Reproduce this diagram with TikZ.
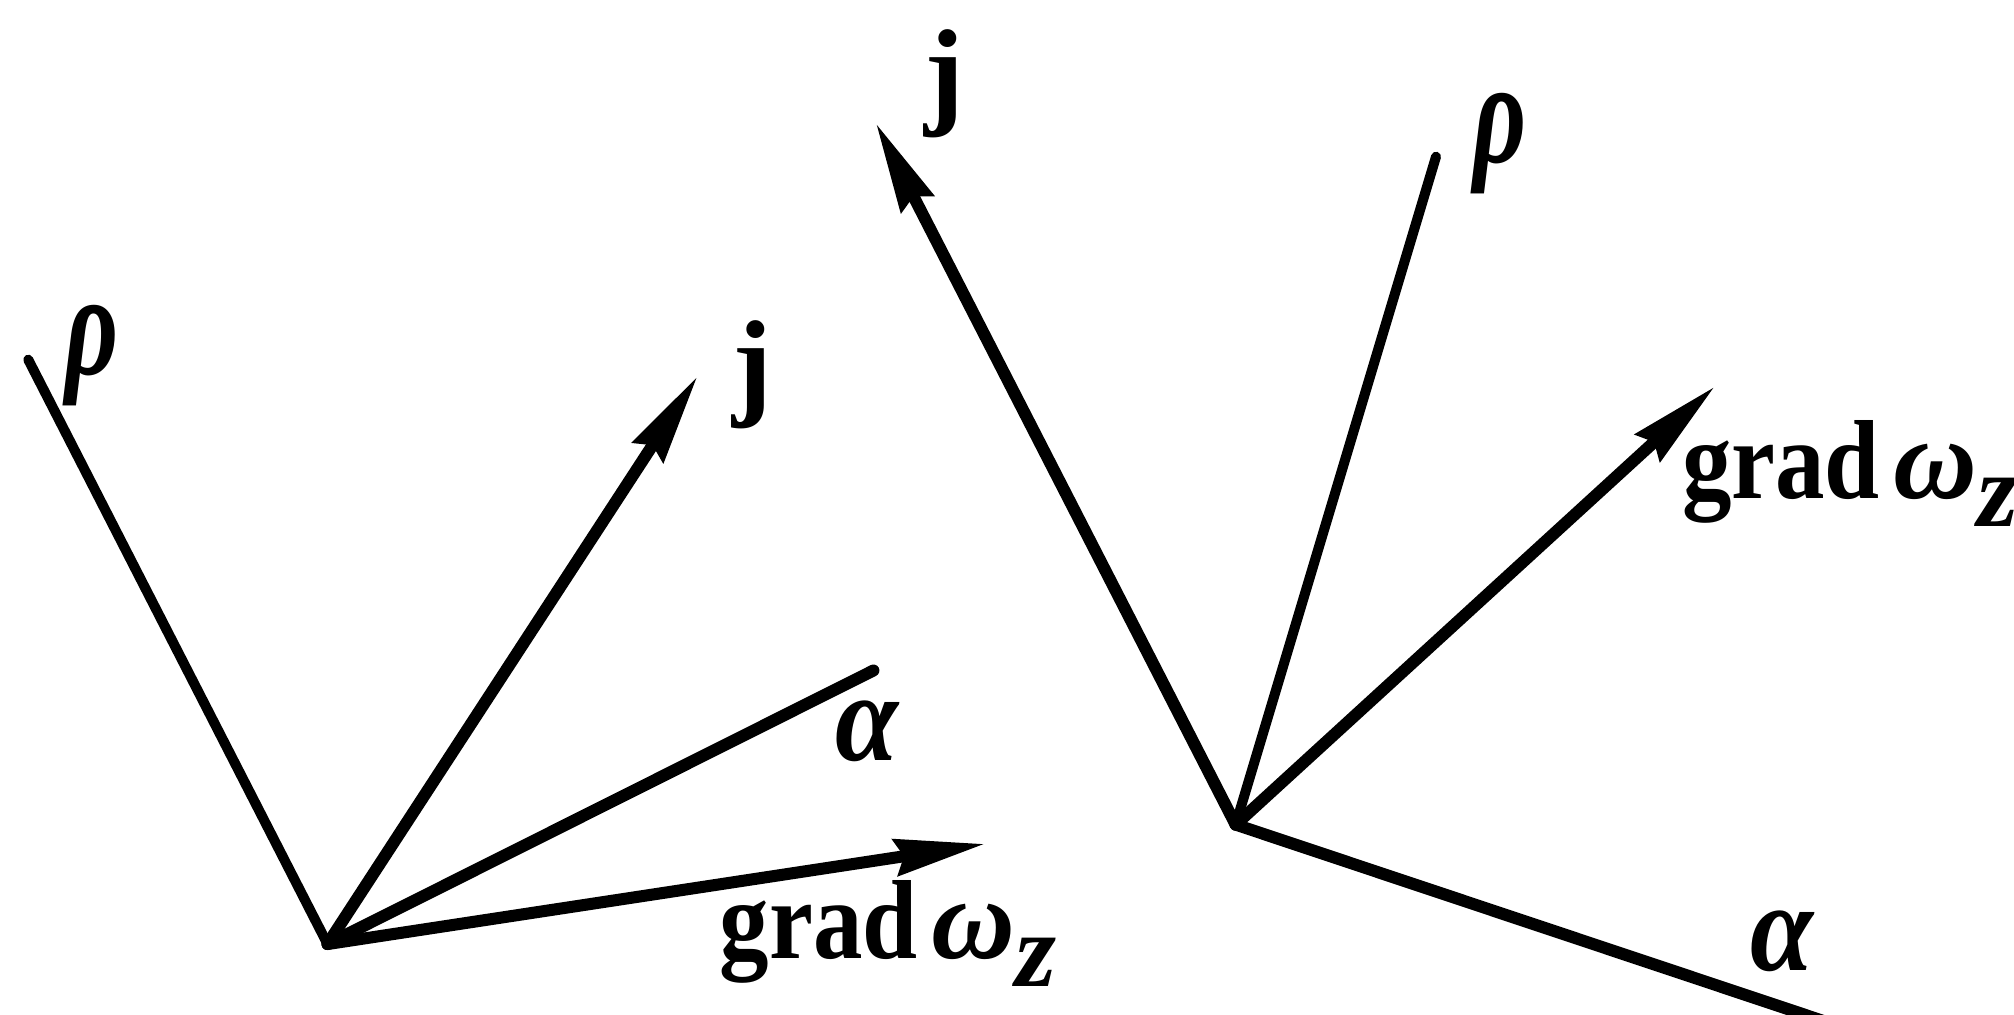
\documentclass[tikz,border=0pt]{standalone}
\usepackage{fontspec}
\setmainfont{Liberation Serif}
\usetikzlibrary{arrows.meta}
\tikzset{
  vec/.style={line width=0.12cm, line cap=round},
  thinvec/.style={line width=0.1cm, line cap=round},
  arr/.style={-{Stealth[length=0.9cm,width=0.36cm,inset=0.08cm]}},
  lbl/.style={inner sep=0pt},
  rholbl/.style={lbl, font=\fontsize{42}{48}\selectfont\bfseries\itshape},
  alphalbl/.style={lbl, font=\fontsize{36}{42}\selectfont\bfseries\itshape},
  jlbl/.style={lbl, font=\fontsize{34}{40}\selectfont\bfseries},
  gradlbl/.style={lbl, anchor=base west, font=\fontsize{32}{36}\selectfont\bfseries},
}
\newcommand{\gradw}{\scalebox{0.88}[1]{grad}\hspace{4pt}{\fontsize{33}{38}\selectfont\itshape ω}\raisebox{-8pt}{\fontsize{30}{34}\selectfont\itshape z}}
\newcommand{\rholabel}{\scalebox{0.7}[1]{ρ}}
\newcommand{\alphalabel}{\scalebox{0.9}[1]{α}}
\begin{document}
\begin{tikzpicture}[x=0.012844cm,y=-0.012844cm]
\useasboundingbox (0,0) rectangle (1568,790);
% left diagram
\coordinate (O1) at (255,735);
\coordinate (P1) at (22,280);
\coordinate (J1) at (543,293);
\coordinate (A1) at (680,522);
\coordinate (G1) at (767,657);
\draw[thinvec] (O1) -- (P1);
\draw[vec,arr] (O1) -- (J1);
\draw[vec] (O1) -- (A1);
\draw[vec,arr] (O1) -- (G1);
\node[rholbl] (lp1) at (72,277) {\rholabel};
\node[jlbl] (lj1) at (586,292) {j};
\node[alphalbl] (la1) at (675,569) {\alphalabel};
\node[gradlbl] (lg1) at (560,746) {\gradw};
% right diagram
\coordinate (O2) at (962,642);
\coordinate (J2) at (682,96);
\coordinate (P2) at (1118,122);
\coordinate (G2) at (1335,301);
\coordinate (A2) at (1420,795);
\draw[vec,arr] (O2) -- (J2);
\draw[thinvec] (O2) -- (P2);
\draw[vec,arr] (O2) -- (G2);
\draw[vec] (O2) -- (A2);
\node[jlbl] (lj2) at (735,65) {j};
\node[rholbl] (lp2) at (1168,112) {\rholabel};
\node[gradlbl] (lg2) at (1309,388) {\gradw};
\node[alphalbl] (la2) at (1387,733) {\alphalabel};
\end{tikzpicture}
\end{document}
